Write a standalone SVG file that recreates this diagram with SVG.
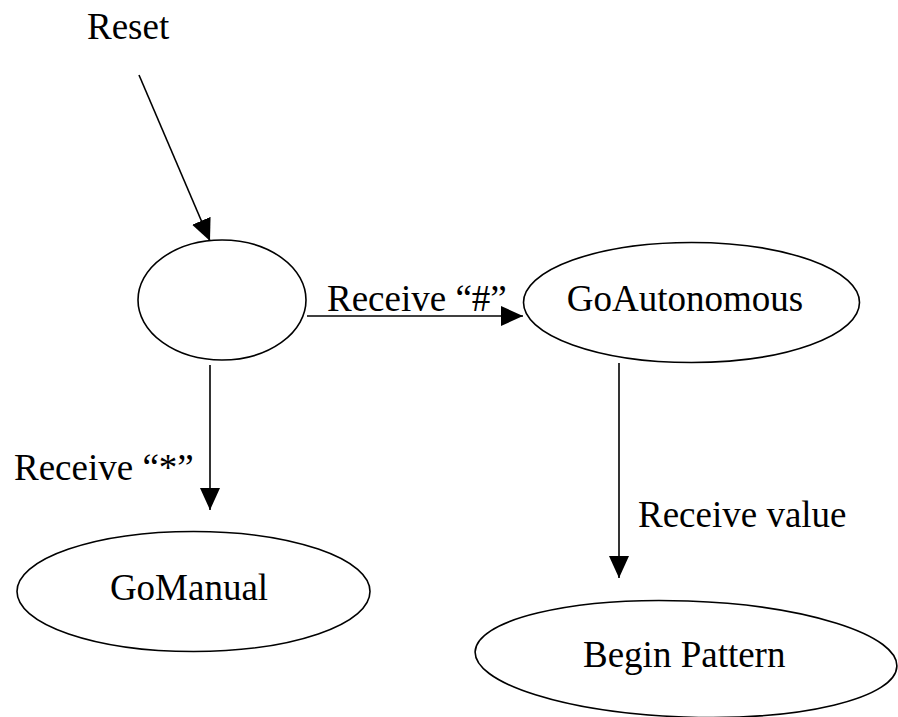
<svg xmlns="http://www.w3.org/2000/svg" width="898" height="717" viewBox="0 0 898 717">
  <style>
    .state { fill: #ffffff; stroke: #000000; stroke-width: 1.6; }
    .edge { fill: none; stroke: #000000; stroke-width: 1.6; marker-end: url(#arrow); }
    .label { font-family: "Liberation Serif", "Times New Roman", serif; font-size: 37px; fill: #000000; }
  </style>
  <defs>
    <marker id="arrow" viewBox="0 0 22 20" refX="22" refY="10" markerWidth="22" markerHeight="20" markerUnits="userSpaceOnUse" orient="auto">
      <path d="M0,0 L22,10 L0,20 Z" fill="#000000"/>
    </marker>
  </defs>
  <rect width="898" height="717" fill="#ffffff"/>

  <!-- connectors -->
  <g id="connectors">
    <line class="edge" x1="139" y1="75" x2="210" y2="241"/>
    <line class="edge" x1="307" y1="316" x2="523" y2="316"/>
    <line class="edge" x1="210" y1="365" x2="210" y2="510"/>
    <line class="edge" x1="619" y1="363" x2="619" y2="578"/>
    <text class="label" x="87" y="39">Reset</text>
    <text class="label" x="327" y="311">Receive “#”</text>
    <text class="label" x="14" y="480">Receive “*”</text>
    <text class="label" x="638" y="527">Receive value</text>
  </g>

  <!-- states -->
  <g id="initial">
    <ellipse class="state" cx="222" cy="300" rx="84" ry="60"/>
  </g>
  <g id="go-autonomous">
    <ellipse class="state" cx="691.5" cy="302.5" rx="168" ry="60"/>
    <text class="label" x="685" y="311" text-anchor="middle">GoAutonomous</text>
  </g>
  <g id="go-manual">
    <ellipse class="state" cx="193.5" cy="591.5" rx="176.5" ry="60"/>
    <text class="label" x="189" y="600" text-anchor="middle">GoManual</text>
  </g>
  <g id="begin-pattern">
    <ellipse class="state" cx="686" cy="659" rx="211" ry="58" transform="rotate(2 686 659)"/>
    <text class="label" x="583" y="667">Begin Pattern</text>
  </g>
</svg>
